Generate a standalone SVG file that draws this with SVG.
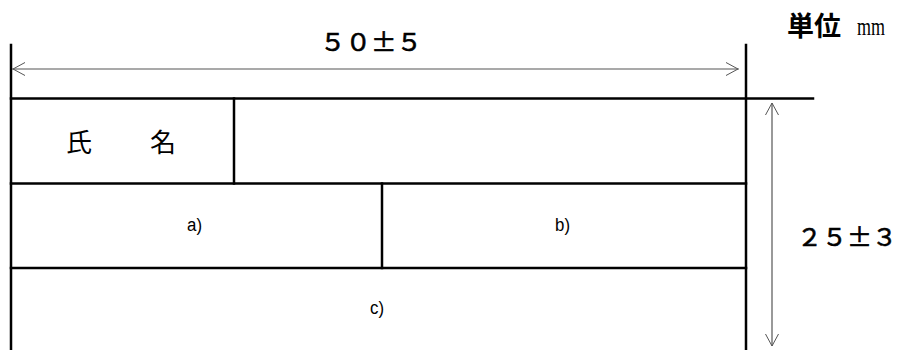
<svg xmlns="http://www.w3.org/2000/svg" width="900" height="350" viewBox="0 0 900 350">
<defs>
<style>
.frame{stroke:#000;stroke-width:2.5;fill:none;stroke-linecap:square}
.dim{stroke:#555;stroke-width:1.2;fill:none}
.head{stroke:#555;stroke-width:1;fill:none}
.big{font-family:"Noto Sans CJK JP","Liberation Sans",sans-serif;font-size:24px;fill:#000;stroke:#000;stroke-width:0.6}
.name{font-family:"Noto Sans CJK JP","Liberation Serif",serif;font-size:26px;fill:#000}
.lbl{font-family:"Liberation Sans","Noto Sans CJK JP",sans-serif;font-size:18px;fill:#000}
</style>
</defs>
<rect width="900" height="350" fill="#fff"/>
<g id="connectors">
<line class="dim" x1="12" y1="69" x2="739" y2="69"/>
<polyline class="head" points="25,62.5 13,69 25,75.5"/>
<polyline class="head" points="726,62.5 738,69 726,75.5"/>
<line class="dim" x1="772" y1="103" x2="772" y2="346"/>
<polyline class="head" points="765.5,115 772,103 778.5,115"/>
<polyline class="head" points="765.5,334 772,346 778.5,334"/>
</g>
<g id="frame">
<line class="frame" x1="11" y1="45" x2="11" y2="350"/>
<line class="frame" x1="746" y1="45" x2="746" y2="350"/>
<line class="frame" x1="11" y1="98.5" x2="813" y2="98.5"/>
<line class="frame" x1="11" y1="183.5" x2="746" y2="183.5"/>
<line class="frame" x1="11" y1="268" x2="746" y2="268"/>
<line class="frame" x1="234" y1="98.5" x2="234" y2="183.5"/>
<line class="frame" x1="382" y1="183.5" x2="382" y2="268"/>
</g>
<g id="width-label"><text class="big" x="320" y="51" textLength="102" lengthAdjust="spacingAndGlyphs">５０±５</text></g>
<g id="height-label"><text class="big" x="797" y="246" textLength="100" lengthAdjust="spacingAndGlyphs">２５±３</text></g>
<g id="unit"><text x="787" y="36" font-family="'Noto Sans CJK JP','Liberation Sans',sans-serif" font-size="27" font-weight="bold">単位</text><text x="857" y="35" font-family="'Liberation Serif',serif" font-size="26" textLength="28" lengthAdjust="spacingAndGlyphs">mm</text></g>
<g id="cell-name"><text class="name" x="66" y="152">氏</text><text class="name" x="150" y="152">名</text></g>
<g id="cell-name-value"></g>
<g id="cell-a"><text class="lbl" x="187" y="231" textLength="15" lengthAdjust="spacingAndGlyphs">a)</text></g>
<g id="cell-b"><text class="lbl" x="555" y="231" textLength="15" lengthAdjust="spacingAndGlyphs">b)</text></g>
<g id="cell-c"><text class="lbl" x="370" y="314" textLength="14" lengthAdjust="spacingAndGlyphs">c)</text></g>
</svg>
